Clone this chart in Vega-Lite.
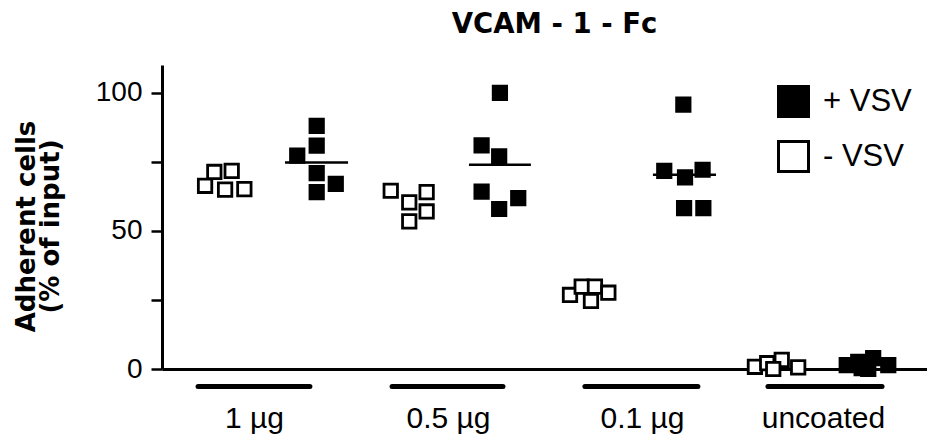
{
  "$schema": "https://vega.github.io/schema/vega-lite/v6.json",
  "autosize": {"type": "none"},
  "width": 765,
  "height": 304,
  "padding": {"left": 162, "top": 65, "right": 0, "bottom": 65},
  "background": "white",
  "config": {"view": {"stroke": null}, "font": "Liberation Sans"},
  "title": {"text": "VCAM - 1 - Fc", "font": "DejaVu Sans", "fontSize": 27.5, "fontWeight": "bold", "color": "black", "anchor": "middle", "frame": "group", "baseline": "alphabetic", "offset": 5, "dx": 10},
  "datasets": {
    "points": [
      {"group": "1 µg", "vsv": "- VSV", "x": 0.728, "pct": 66.3},
      {"group": "1 µg", "vsv": "- VSV", "x": 0.777, "pct": 71.3},
      {"group": "1 µg", "vsv": "- VSV", "x": 0.869, "pct": 71.7},
      {"group": "1 µg", "vsv": "- VSV", "x": 0.834, "pct": 64.9},
      {"group": "1 µg", "vsv": "- VSV", "x": 0.936, "pct": 65.1},
      {"group": "1 µg", "vsv": "+ VSV", "x": 1.319, "pct": 88.0},
      {"group": "1 µg", "vsv": "+ VSV", "x": 1.319, "pct": 80.8},
      {"group": "1 µg", "vsv": "+ VSV", "x": 1.216, "pct": 77.2},
      {"group": "1 µg", "vsv": "+ VSV", "x": 1.319, "pct": 70.9},
      {"group": "1 µg", "vsv": "+ VSV", "x": 1.420, "pct": 67.0},
      {"group": "1 µg", "vsv": "+ VSV", "x": 1.319, "pct": 64.0},
      {"group": "0.5 µg", "vsv": "- VSV", "x": 1.711, "pct": 64.5},
      {"group": "0.5 µg", "vsv": "- VSV", "x": 1.809, "pct": 60.3},
      {"group": "0.5 µg", "vsv": "- VSV", "x": 1.809, "pct": 53.4},
      {"group": "0.5 µg", "vsv": "- VSV", "x": 1.901, "pct": 64.0},
      {"group": "0.5 µg", "vsv": "- VSV", "x": 1.901, "pct": 57.0},
      {"group": "0.5 µg", "vsv": "+ VSV", "x": 2.289, "pct": 99.9},
      {"group": "0.5 µg", "vsv": "+ VSV", "x": 2.192, "pct": 80.9},
      {"group": "0.5 µg", "vsv": "+ VSV", "x": 2.285, "pct": 76.9},
      {"group": "0.5 µg", "vsv": "+ VSV", "x": 2.192, "pct": 64.2},
      {"group": "0.5 µg", "vsv": "+ VSV", "x": 2.386, "pct": 61.8},
      {"group": "0.5 µg", "vsv": "+ VSV", "x": 2.285, "pct": 57.9},
      {"group": "0.1 µg", "vsv": "- VSV", "x": 2.660, "pct": 26.8},
      {"group": "0.1 µg", "vsv": "- VSV", "x": 2.722, "pct": 29.8},
      {"group": "0.1 µg", "vsv": "- VSV", "x": 2.792, "pct": 29.8},
      {"group": "0.1 µg", "vsv": "- VSV", "x": 2.863, "pct": 27.6},
      {"group": "0.1 µg", "vsv": "- VSV", "x": 2.771, "pct": 24.6},
      {"group": "0.1 µg", "vsv": "+ VSV", "x": 3.260, "pct": 95.7},
      {"group": "0.1 µg", "vsv": "+ VSV", "x": 3.159, "pct": 71.7},
      {"group": "0.1 µg", "vsv": "+ VSV", "x": 3.269, "pct": 69.3},
      {"group": "0.1 µg", "vsv": "+ VSV", "x": 3.362, "pct": 72.1},
      {"group": "0.1 µg", "vsv": "+ VSV", "x": 3.264, "pct": 58.2},
      {"group": "0.1 µg", "vsv": "+ VSV", "x": 3.366, "pct": 58.2},
      {"group": "uncoated", "vsv": "- VSV", "x": 3.639, "pct": 0.8},
      {"group": "uncoated", "vsv": "- VSV", "x": 3.704, "pct": 2.1},
      {"group": "uncoated", "vsv": "- VSV", "x": 3.781, "pct": 3.3},
      {"group": "uncoated", "vsv": "- VSV", "x": 3.868, "pct": 0.6},
      {"group": "uncoated", "vsv": "- VSV", "x": 3.736, "pct": 0.0},
      {"group": "uncoated", "vsv": "+ VSV", "x": 4.125, "pct": 1.4},
      {"group": "uncoated", "vsv": "+ VSV", "x": 4.186, "pct": 2.6},
      {"group": "uncoated", "vsv": "+ VSV", "x": 4.265, "pct": 3.9},
      {"group": "uncoated", "vsv": "+ VSV", "x": 4.239, "pct": 0.0},
      {"group": "uncoated", "vsv": "+ VSV", "x": 4.345, "pct": 1.4},
      {"group": "uncoated", "vsv": "+ VSV", "x": 4.204, "pct": 0.3}
    ],
    "means": [
      {"group": "1 µg", "x_start": 1.151, "x_end": 1.485, "mean": 74.7},
      {"group": "0.5 µg", "x_start": 2.125, "x_end": 2.453, "mean": 73.9},
      {"group": "0.1 µg", "x_start": 3.099, "x_end": 3.433, "mean": 70.3}
    ],
    "groups": [
      {"group": "1 µg", "x_start": 0.691, "x_end": 1.283},
      {"group": "0.5 µg", "x_start": 1.718, "x_end": 2.305},
      {"group": "0.1 µg", "x_start": 2.739, "x_end": 3.337},
      {"group": "uncoated", "x_start": 3.708, "x_end": 4.312}
    ]
  },
  "layer": [
    {
      "data": {"name": "groups"},
      "mark": {"type": "rule", "strokeWidth": 5, "strokeCap": "round", "color": "black"},
      "encoding": {
        "x": {"field": "x_start", "type": "quantitative", "scale": {"domain": [0.5, 4.55], "nice": false, "zero": false},
              "axis": {"values": [0.987, 2.014, 3.041, 3.999],
                       "labelExpr": "datum.value < 1.5 ? '1 µg' : datum.value < 2.5 ? '0.5 µg' : datum.value < 3.5 ? '0.1 µg' : 'uncoated'",
                       "title": null, "grid": false, "ticks": false, "tickSize": 0, "domain": true, "domainColor": "black", "domainWidth": 3,
                       "labelFont": "Liberation Sans", "labelFontSize": 30, "labelColor": "black", "labelBaseline": "alphabetic", "labelPadding": 58, "labelFlush": false, "labelOverlap": false}},
        "x2": {"field": "x_end"},
        "y": {"datum": -6.3, "type": "quantitative", "scale": {"domain": [0, 110], "nice": false},
              "axis": {"values": [0, 25, 50, 75, 100], "labelExpr": "datum.value % 50 == 0 ? datum.label : ''",
                       "title": ["Adherent cells", "(% of input)"], "titleFont": "DejaVu Sans", "titleFontSize": 26, "titleFontWeight": "bold", "titleColor": "black",
                       "titleLineHeight": 24, "titleAngle": -90, "titleAlign": "center", "titleBaseline": "middle", "titleX": -136, "titleY": 161,
                       "grid": false, "tickSize": 11, "tickWidth": 2.5, "tickColor": "black", "domainColor": "black", "domainWidth": 3,
                       "labelFont": "Liberation Sans", "labelFontSize": 28, "labelColor": "black", "labelPadding": 9}}
      }
    },
    {
      "mark": {"type": "rule", "strokeWidth": 3, "color": "black"},
      "encoding": {"y": {"datum": 110, "type": "quantitative"}}
    },
    {
      "data": {"name": "means"},
      "mark": {"type": "rule", "strokeWidth": 2.5, "color": "black"},
      "encoding": {
        "x": {"field": "x_start", "type": "quantitative"},
        "x2": {"field": "x_end"},
        "y": {"field": "mean", "type": "quantitative"}
      }
    },
    {
      "data": {"name": "points"},
      "mark": {"type": "point", "shape": "square", "filled": true, "size": 180, "stroke": "black", "strokeWidth": 2.8, "opacity": 1},
      "encoding": {
        "x": {"field": "x", "type": "quantitative"},
        "y": {"field": "pct", "type": "quantitative"},
        "fill": {"field": "vsv", "type": "nominal", "scale": {"domain": ["+ VSV", "- VSV"], "range": ["black", "white"]},
                 "legend": {"orient": "none", "legendX": 615, "legendY": 20, "title": null, "padding": 0,
                            "symbolType": "square", "symbolSize": 900, "symbolStrokeColor": "black", "symbolStrokeWidth": 3,
                            "labelFont": "Liberation Sans", "labelFontSize": 31, "labelColor": "black", "labelOffset": 13, "rowPadding": 12,
                            "encode": {"symbols": {"update": {"stroke": {"value": "black"}, "strokeWidth": {"value": 3}, "opacity": {"value": 1}}}}}}
      }
    }
  ]
}
